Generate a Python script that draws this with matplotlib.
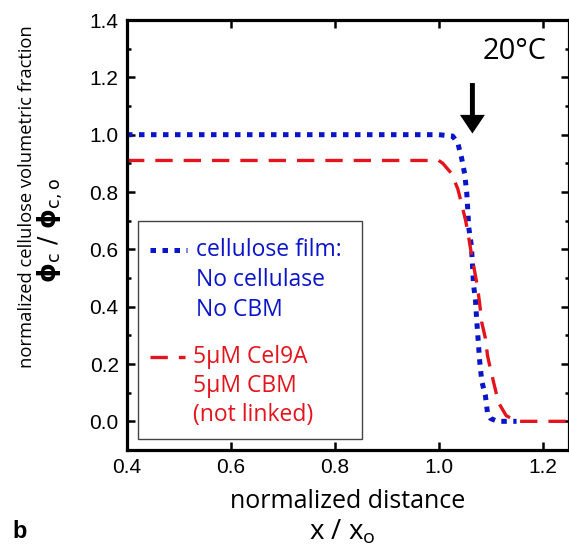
import matplotlib
matplotlib.use("Agg")
import matplotlib.pyplot as plt
from matplotlib.lines import Line2D
from matplotlib.patches import Rectangle
from matplotlib.ticker import MultipleLocator

# cellulose film, no cellulase / no CBM (blue dotted)
x_film = [0.40, 1.000, 1.027, 1.037, 1.044, 1.050, 1.054, 1.056, 1.058, 1.063, 1.065,
          1.067, 1.071, 1.073, 1.075, 1.079, 1.083, 1.090, 1.094, 1.100, 1.113, 1.150]
y_film = [1.00, 1.000, 0.995, 0.970, 0.920, 0.864, 0.800, 0.740, 0.676, 0.613, 0.550,
          0.480, 0.420, 0.360, 0.310, 0.210, 0.140, 0.090, 0.030, 0.010, 0.000, 0.000]

# 5uM Cel9A + 5uM CBM, not linked (red dashed)
x_cel = [0.40, 1.000, 1.008, 1.025, 1.037, 1.044, 1.052, 1.058, 1.063, 1.069, 1.075,
         1.079, 1.083, 1.090, 1.094, 1.100, 1.108, 1.115, 1.130, 1.150, 1.250]
y_cel = [0.91, 0.910, 0.900, 0.864, 0.810, 0.760, 0.700, 0.640, 0.585, 0.526, 0.467,
         0.410, 0.345, 0.290, 0.230, 0.180, 0.120, 0.066, 0.020, 0.000, 0.000]

film_label = ["cellulose film:", "No cellulase", "No CBM"]
cel_label = ["5\u03bcM Cel9A", "5\u03bcM CBM", "(not linked)"]

blue = "#0a14c8"
red = "#e3141b"
txt_font = ["Open Sans", "DejaVu Sans"]
plt.rcParams["mathtext.default"] = "regular"

fig = plt.figure(figsize=(5.69, 5.47), dpi=100)
ax = fig.add_axes([127 / 569, 1 - 450 / 547, 441.5 / 569, 430 / 547])

ax.plot(x_film, y_film, color=blue, lw=3.6, dashes=(1.1, 1.3), dash_capstyle="butt")
ax.plot(x_cel, y_cel, color=red, lw=2.4, dashes=(5.2, 3.3), dash_capstyle="butt")

# arrow marking the front
ax.arrow(1.065, 1.18, 0, -0.176, width=0.0095, head_width=0.048, head_length=0.065,
         length_includes_head=True, color="k", lw=0)
ax.text(1.146, 1.29, "20\u00b0C", fontsize=21, family=txt_font, ha="center", va="center")

ax.set_xlim(0.4, 1.25)
ax.set_ylim(-0.1, 1.4)
ax.xaxis.set_major_locator(MultipleLocator(0.2))
ax.yaxis.set_major_locator(MultipleLocator(0.2))
ax.yaxis.set_minor_locator(MultipleLocator(0.1))
ax.xaxis.set_major_formatter(plt.FuncFormatter(lambda v, p: f"{v:.1f}"))
ax.yaxis.set_major_formatter(plt.FuncFormatter(lambda v, p: f"{v:.1f}"))
ax.tick_params(which="both", direction="in", top=True, right=True, width=1.8)
ax.tick_params(which="major", length=5.5, pad=6, labelsize=15)
ax.tick_params(which="minor", length=3)
for lab in ax.get_xticklabels() + ax.get_yticklabels():
    lab.set_family("Liberation Sans")
for s in ax.spines.values():
    s.set_linewidth(2.3)

# legend box drawn by hand (px -> axes fraction)
def ax_pt(px, py):
    return (px - 127) / 441.5, (450 - py) / 430

bx0, by0 = ax_pt(138, 439)
bx1, by1 = ax_pt(362, 221)
ax.add_patch(Rectangle((bx0, by0), bx1 - bx0, by1 - by0, transform=ax.transAxes,
                       fill=True, facecolor="white", edgecolor="#444444", lw=1.0, zorder=5))
lx0, ly = ax_pt(150, 250)
lx1, _ = ax_pt(187, 250)
ax.add_line(Line2D([lx0, lx1], [ly, ly], transform=ax.transAxes, color=blue, lw=3.6,
                   dashes=(1.1, 1.3), dash_capstyle="butt", zorder=6))
lx0, ly = ax_pt(150, 357)
lx1, _ = ax_pt(185, 357)
ax.add_line(Line2D([lx0, lx1], [ly, ly], transform=ax.transAxes, color=red, lw=2.4,
                   dashes=(5.2, 3.3), dash_capstyle="butt", zorder=6))
for i, s in enumerate(film_label):
    tx, ty = ax_pt(196, 250 + 30 * i)
    ax.text(tx, ty, s, transform=ax.transAxes, color=blue, fontsize=16.5, family=txt_font,
            va="center", ha="left", zorder=7)
for i, s in enumerate(cel_label):
    tx, ty = ax_pt(193, 357 + 29 * i)
    ax.text(tx, ty, s, transform=ax.transAxes, color=red, fontsize=16.5, family=txt_font,
            va="center", ha="left", zorder=7)

# axis labels
fig.text(348 / 569, 1 - 502 / 547, "normalized distance", fontsize=18, family=txt_font,
         ha="center", va="center")
fig.text(342 / 569, 1 - 532 / 547, "x / x$_\\mathregular{o}$", fontsize=20, family=txt_font,
         ha="center", va="center")
fig.text(27 / 569, 1 - 197 / 547, "normalized cellulose volumetric fraction", fontsize=13.2,
         family=txt_font, rotation=90, ha="center", va="center")
fig.text(50 / 569, 1 - 230 / 547, r"$\mathbf{\phi}_c$ / $\mathbf{\phi}_{c,o}$", fontsize=18,
         rotation=90, ha="center", va="center")
fig.text(20 / 569, 1 - 531 / 547, "b", fontsize=17, fontweight="bold",
         family="Liberation Sans", ha="center", va="center")

fig.savefig("out.png", dpi=100)
